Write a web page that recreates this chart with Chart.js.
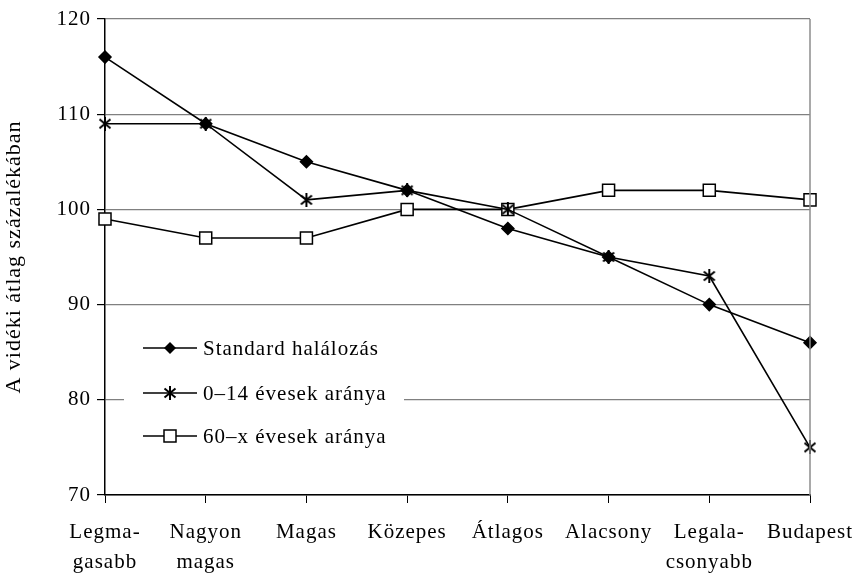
<!DOCTYPE html>
<html>
<head>
<meta charset="utf-8">
<script src="https://cdn.jsdelivr.net/npm/chart.js@4/dist/chart.umd.min.js"></script>
<style>
html,body{margin:0;padding:0;background:#fff;}
#wrap{width:858px;height:576px;position:relative;}
</style>
</head>
<body>
<div id="wrap"><canvas id="c" width="858" height="576"></canvas></div>
<script>
const categories = [['Legma-','gasabb'], ['Nagyon','magas'], 'Magas', 'Közepes', 'Átlagos', 'Alacsony', ['Legala-','csonyabb'], 'Budapest'];
const standardHalalozas = [116, 109, 105, 102, 98, 95, 90, 86];
const evesek0_14 = [109, 109, 101, 102, 100, 95, 93, 75];
const evesek60x = [99, 97, 97, 100, 100, 102, 102, 101];
const seriesLabels = ['Standard halálozás', '0–14 évesek aránya', '60–x évesek aránya'];
const yTitle = 'A vidéki átlag százalékában';

const FONT = "'Liberation Serif', 'Times New Roman', serif";
const FS = 21;

function makeAsterisk(size, lw) {
  const c = document.createElement('canvas');
  c.width = size; c.height = size;
  const x = c.getContext('2d');
  x.strokeStyle = '#000'; x.lineWidth = lw;
  const p = 1.5, s = size - 1.5;
  x.beginPath();
  x.moveTo(p, p + 1); x.lineTo(s, s - 1);
  x.moveTo(s, p + 1); x.lineTo(p, s - 1);
  x.moveTo(size / 2, 0); x.lineTo(size / 2, size);
  x.stroke();
  return c;
}
const asterisk = makeAsterisk(14, 2);

function drawMarker(ctx, kind, x, y) {
  ctx.save();
  ctx.strokeStyle = '#000';
  ctx.fillStyle = '#000';
  ctx.lineWidth = 1.5;
  if (kind === 0) {
    const r = 6;
    ctx.beginPath();
    ctx.moveTo(x - r, y); ctx.lineTo(x, y - r); ctx.lineTo(x + r, y); ctx.lineTo(x, y + r);
    ctx.closePath(); ctx.fill();
  } else if (kind === 1) {
    ctx.drawImage(asterisk, x - 7, y - 7);
  } else {
    ctx.fillStyle = '#fff';
    ctx.fillRect(x - 6, y - 6, 12, 12);
    ctx.strokeRect(x - 6, y - 6, 12, 12);
  }
  ctx.restore();
}

function setSpacing(chart) {
  try { chart.ctx.letterSpacing = '1px'; } catch (e) {}
}

const extras = {
  id: 'extras',
  beforeUpdate(chart) { setSpacing(chart); },
  beforeLayout(chart) { setSpacing(chart); },
  beforeDraw(chart) { setSpacing(chart); },
  afterDraw(chart) {
    const ctx = chart.ctx;
    const a = chart.chartArea;
    ctx.save();
    ctx.strokeStyle = '#8c8c8c';
    ctx.lineWidth = 1.5;
    ctx.beginPath();
    ctx.moveTo(a.right, a.top); ctx.lineTo(a.right, a.bottom);
    ctx.stroke();
    ctx.fillStyle = '#fff';
    ctx.fillRect(124, 322, 280, 136);
    const rows = [348, 393, 436];
    ctx.font = FS + 'px ' + FONT;
    ctx.textBaseline = 'middle';
    ctx.textAlign = 'left';
    for (let i = 0; i < 3; i++) {
      const y = rows[i];
      ctx.strokeStyle = '#000';
      ctx.lineWidth = 1.5;
      ctx.beginPath();
      ctx.moveTo(143, y); ctx.lineTo(197, y);
      ctx.stroke();
      drawMarker(ctx, i, 170, y);
      ctx.fillStyle = '#000';
      ctx.fillText(seriesLabels[i], 203, y + 1);
    }
    ctx.restore();
  }
};

const common = {
  borderColor: '#000',
  borderWidth: 1.6,
  tension: 0,
  fill: false,
  clip: false,
  pointBorderColor: '#000',
  pointBorderWidth: 1.5
};

new Chart(document.getElementById('c'), {
  type: 'line',
  data: {
    labels: categories,
    datasets: [
      Object.assign({}, common, {
        label: seriesLabels[0], data: standardHalalozas,
        pointStyle: 'rectRot', pointRadius: 6, pointBackgroundColor: '#000'
      }),
      Object.assign({}, common, {
        label: seriesLabels[1], data: evesek0_14,
        pointStyle: asterisk, pointRadius: 7
      }),
      Object.assign({}, common, {
        label: seriesLabels[2], data: evesek60x,
        pointStyle: 'rect', pointRadius: 8.5, pointBackgroundColor: '#fff'
      })
    ]
  },
  options: {
    responsive: false,
    animation: false,
    devicePixelRatio: 1,
    layout: { padding: { top: 19, right: 48, left: 0, bottom: 0 } },
    plugins: { legend: { display: false }, tooltip: { enabled: false } },
    scales: {
      x: {
        offset: false,
        grid: { drawOnChartArea: false, drawTicks: true, tickLength: 8, tickColor: '#000', color: '#000' },
        border: { display: true, color: '#000', width: 1.5 },
        ticks: { color: '#000', font: { family: FONT, size: FS, lineHeight: '30px' }, padding: 14, maxRotation: 0, autoSkip: false },
        afterFit(s) { s.height = 81; s.paddingLeft = 0; s.paddingRight = 0; }
      },
      y: {
        min: 70, max: 120,
        grid: { color: '#808080', lineWidth: 1.2, drawTicks: true, tickLength: 8, tickColor: '#000' },
        border: { display: true, color: '#000', width: 1.5 },
        ticks: { stepSize: 10, color: '#000', font: { family: FONT, size: FS }, padding: 6 },
        title: { display: true, text: yTitle, color: '#000', font: { family: FONT, size: 22 }, padding: { top: 1, bottom: 0 } },
        afterFit(s) { s.width = 105; s.paddingTop = 0; s.paddingBottom = 0; }
      }
    }
  },
  plugins: [extras]
});
</script>
</body>
</html>
